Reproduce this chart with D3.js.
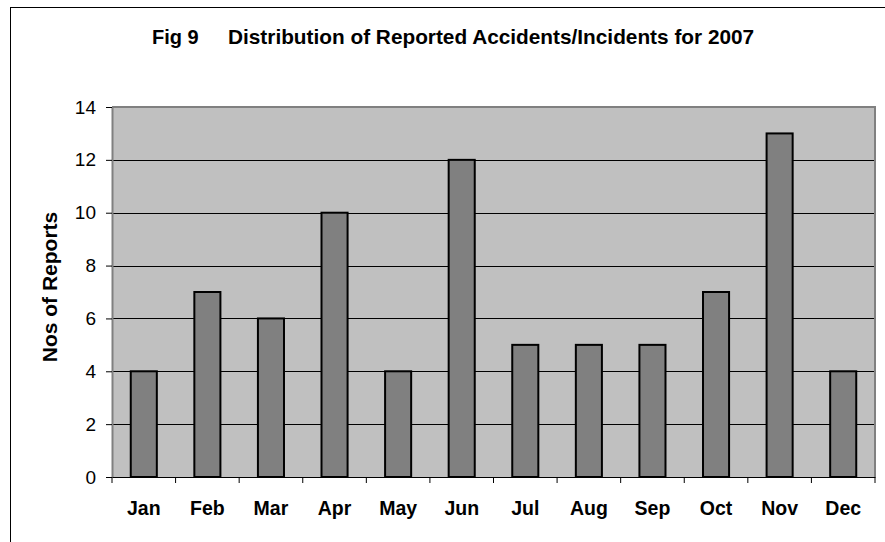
<!DOCTYPE html>
<html>
<head>
<meta charset="utf-8">
<script src="https://cdn.jsdelivr.net/npm/d3@7"></script>
<style>
  html, body { margin: 0; padding: 0; background: #fff; }
  svg { display: block; font-family: Arial, "Liberation Sans", sans-serif; }
</style>
</head>
<body>
<div id="chart"></div>
<script>
// chart data
const months = ['Jan', 'Feb', 'Mar', 'Apr', 'May', 'Jun', 'Jul', 'Aug', 'Sep', 'Oct', 'Nov', 'Dec'];
const reports = [4, 7, 6, 10, 4, 12, 5, 5, 5, 7, 13, 4];
const yTicks = [0, 2, 4, 6, 8, 10, 12, 14];

const width = 885, height = 542;
const plot = { left: 112, top: 107, right: 875, bottom: 477 };

const svg = d3.select('#chart').append('svg')
  .attr('width', width)
  .attr('height', height);

// outer chart frame (runs off the picture at right / bottom)
svg.append('rect')
  .attr('x', 10.5).attr('y', 7.5)
  .attr('width', 900).attr('height', 600)
  .attr('fill', '#fff')
  .attr('stroke', '#000')
  .attr('stroke-width', 1);

const x = d3.scaleBand()
  .domain(months)
  .range([plot.left, plot.right])
  .padding(0);

const y = d3.scaleLinear()
  .domain([0, 14])
  .range([plot.bottom, plot.top]);

// plot background
svg.append('rect')
  .attr('x', plot.left).attr('y', plot.top)
  .attr('width', plot.right - plot.left)
  .attr('height', plot.bottom - plot.top)
  .attr('fill', '#c0c0c0');

// gridlines
svg.append('g')
  .selectAll('line')
  .data(yTicks.filter(d => d > 0 && d < 14))
  .join('line')
  .attr('x1', plot.left).attr('x2', plot.right)
  .attr('y1', d => Math.round(y(d)) + 0.5)
  .attr('y2', d => Math.round(y(d)) + 0.5)
  .attr('stroke', '#000')
  .attr('stroke-width', 1);

// plot border top/right (grey)
svg.append('path')
  .attr('d', `M${plot.left},${plot.top}H${plot.right}V${plot.bottom}`)
  .attr('fill', 'none')
  .attr('stroke', '#808080')
  .attr('stroke-width', 2);

// bars
const barW = x.bandwidth() * 0.41;
svg.append('g')
  .selectAll('rect')
  .data(months.map((m, i) => ({ m, v: reports[i] })))
  .join('rect')
  .attr('x', d => x(d.m) + (x.bandwidth() - barW) / 2)
  .attr('y', d => y(d.v))
  .attr('width', barW)
  .attr('height', d => y(0) - y(d.v))
  .attr('fill', '#808080')
  .attr('stroke', '#000')
  .attr('stroke-width', 2);

// y axis
const yAxis = svg.append('g')
  .attr('transform', `translate(${plot.left},0)`)
  .call(d3.axisLeft(y).tickValues(yTicks).tickSize(6).tickPadding(10).tickSizeOuter(0));
yAxis.select('.domain').attr('stroke', '#808080').attr('stroke-width', 2);
yAxis.selectAll('.tick line').attr('stroke', '#000');
yAxis.selectAll('.tick text')
  .attr('font-size', '19px')
  .attr('font-family', 'Arial, "Liberation Sans", sans-serif')
  .attr('fill', '#000');

// x axis
const xAxis = svg.append('g')
  .attr('transform', `translate(0,${plot.bottom})`)
  .call(d3.axisBottom(x).tickSize(0).tickPadding(0).tickSizeOuter(0));
xAxis.select('.domain').attr('stroke', '#000').attr('stroke-width', 1);
xAxis.selectAll('.tick text')
  .attr('y', 38)
  .attr('dy', 0)
  .attr('font-size', '19.5px')
  .attr('font-weight', 'bold')
  .attr('font-family', 'Arial, "Liberation Sans", sans-serif')
  .attr('fill', '#000');

// category separator ticks
svg.append('g')
  .selectAll('line')
  .data(months.concat(['end']))
  .join('line')
  .attr('x1', (d, i) => plot.left + i * x.step())
  .attr('x2', (d, i) => plot.left + i * x.step())
  .attr('y1', plot.bottom)
  .attr('y2', plot.bottom + 6)
  .attr('stroke', '#000');

// title
svg.append('text')
  .attr('x', 152).attr('y', 44)
  .attr('font-size', '20px')
  .attr('font-weight', 'bold')
  .text('Fig 9');
svg.append('text')
  .attr('x', 228).attr('y', 44)
  .attr('font-size', '20.8px')
  .attr('font-weight', 'bold')
  .text('Distribution of Reported Accidents/Incidents for 2007');

// y axis title
svg.append('text')
  .attr('transform', 'translate(56.5,287) rotate(-90)')
  .attr('text-anchor', 'middle')
  .attr('font-size', '21px')
  .attr('font-weight', 'bold')
  .text('Nos of Reports');
</script>
</body>
</html>
